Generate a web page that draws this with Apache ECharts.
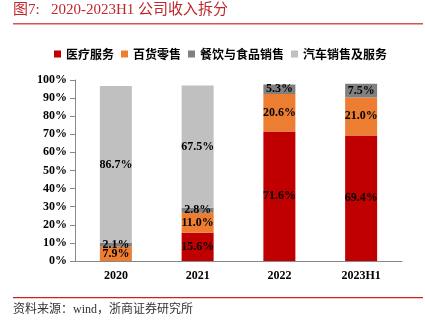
<!DOCTYPE html>
<html><head><meta charset="utf-8">
<script src="https://cdn.jsdelivr.net/npm/echarts@6/dist/echarts.min.js"></script>
<style>html,body{margin:0;padding:0;background:#fff}#c{width:425px;height:321px}</style>
</head><body><div id="c"></div>
<script>
const categories = ['2020', '2021', '2022', '2023H1'];
const seriesNames = ['医疗服务', '百货零售', '餐饮与食品销售', '汽车销售及服务'];
const medical = [0, 15.6, 71.6, 69.4];
const retail = [7.9, 11.0, 20.6, 21.0];
const food = [2.1, 2.8, 5.3, 7.5];
const auto = [86.7, 67.5, 0, 0];
const yTicks = [0, 10, 20, 30, 40, 50, 60, 70, 80, 90, 100];
const colors = ['#C00000', '#ED7D31', '#808080', '#C0C0C0'];

const chart = echarts.init(document.getElementById('c'), null, {renderer: 'canvas'});
const serif = '"Liberation Serif","Times New Roman",serif';
const cjk = '"Noto Sans CJK SC","Noto Sans",sans-serif';
const dataSets = [medical, retail, food, auto];
const series = seriesNames.map((n, i) => ({
  name: n, type: 'bar', stack: 'a', barWidth: 32,
  itemStyle: {color: colors[i]},
  data: dataSets[i].map(v => v === 0 ? null : v),
  label: {show: true, position: 'inside', formatter: p => p.value.toFixed(1) + '%',
    color: '#000', fontFamily: serif, fontWeight: 'bold', fontSize: 12}
}));
chart.setOption({
  animation: false,
  grid: {left: 75, right: 23, top: 80, bottom: 60},
  legend: {top: 43, left: 49, itemWidth: 7, itemHeight: 7, itemGap: 7, icon: 'rect',
    textStyle: {fontFamily: cjk, fontWeight: 'bold', fontSize: 12, color: '#000'},
    data: seriesNames},
  xAxis: {type: 'category', data: categories,
    axisLine: {lineStyle: {color: '#888'}}, axisTick: {lineStyle: {color: '#888'}},
    axisLabel: {fontFamily: serif, fontWeight: 'bold', fontSize: 12, color: '#000', margin: 9}},
  yAxis: {type: 'value', min: 0, max: 100, interval: 10,
    axisLine: {show: true, lineStyle: {color: '#888'}}, axisTick: {show: true, lineStyle: {color: '#888'}},
    splitLine: {show: false},
    axisLabel: {fontFamily: serif, fontWeight: 'bold', fontSize: 12, color: '#000', margin: 8,
      formatter: v => yTicks.includes(v) ? v + '%' : ''}},
  series: series,
  graphic: [
    {type: 'text', left: 13, top: 3, style: {text: '图7:   2020-2023H1 公司收入拆分', fill: '#C0272D',
      font: '15px "Liberation Serif","Noto Sans CJK SC",serif'}},
    {type: 'rect', shape: {x: 13, y: 23, width: 410, height: 1.5}, style: {fill: '#D9534F'}},
    {type: 'rect', shape: {x: 13, y: 297, width: 410, height: 1.2}, style: {fill: '#D02020'}},
    {type: 'text', left: 13, top: 304, style: {text: '资料来源：wind，浙商证券研究所', fill: '#333',
      font: '12px "Liberation Serif","Noto Sans CJK SC",serif'}}
  ]
});
</script></body></html>
